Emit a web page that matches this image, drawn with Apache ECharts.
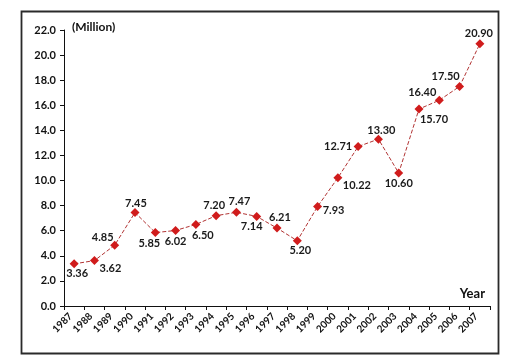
<!DOCTYPE html>
<html>
<head>
<meta charset="utf-8">
<script src="https://cdn.jsdelivr.net/npm/echarts@6/dist/echarts.min.js"></script>
<style>html,body{margin:0;padding:0;background:#fff;}#chart{width:506px;height:364px;}</style>
</head>
<body>
<div id="chart"></div>
<script>
var years = ['1987','1988','1989','1990','1991','1992','1993','1994','1995','1996','1997','1998','1999','2000','2001','2002','2003','2004','2005','2006','2007'];
var values = [3.36, 3.62, 4.85, 7.45, 5.85, 6.02, 6.50, 7.20, 7.47, 7.14, 6.21, 5.20, 7.93, 10.22, 12.71, 13.30, 10.60, 15.70, 16.40, 17.50, 20.90];
var yTicks = { min: 0, max: 22, interval: 2 };
// label offsets (pixels from each marker centre), style only
var labelOffsets = [[3,10],[16,8],[-12,-8],[1,-9],[-6,11],[0,11],[7,11],[-2,-10],[3,-11],[-5,10],[3,-11],[3,10],[16,4],[19,8],[-20,0],[3,-9],[0,10],[15,10],[-17,-8],[-14,-10],[-1,-10]];

var font = 'Lato, "DejaVu Sans", sans-serif';
var chart = echarts.init(document.getElementById('chart'));
chart.setOption({
  animation: false,
  backgroundColor: '#fff',
  grid: { left: 64, right: 16, top: 30, bottom: 58 },
  graphic: [{
    type: 'rect', shape: { x: 21.5, y: 11.5, width: 477, height: 342 },
    style: { fill: 'none', stroke: '#2a2a2a', lineWidth: 1.8 }, z: 0
  }],
  xAxis: {
    type: 'category', data: years, boundaryGap: true,
    name: 'Year', nameLocation: 'end', nameGap: -5,
    nameTextStyle: { fontFamily: font, fontWeight: 'bold', fontSize: 13, color: '#111', align: 'right', verticalAlign: 'bottom', padding: [0,0,6,0] },
    axisLine: { lineStyle: { color: '#111', width: 1 } },
    axisTick: { show: true, length: 4, alignWithLabel: false, lineStyle: { color: '#111' } },
    axisLabel: { rotate: 45, interval: 0, margin: 5, padding: [0,5,0,0], fontFamily: font, fontWeight: 'bold', fontSize: 10, color: '#111' },
    splitLine: { show: false }
  },
  yAxis: {
    type: 'value', min: yTicks.min, max: yTicks.max, interval: yTicks.interval,
    name: '(Million)', nameLocation: 'end', nameGap: 3,
    nameTextStyle: { fontFamily: font, fontWeight: 'bold', fontSize: 12, color: '#111', align: 'left', verticalAlign: 'middle', padding: [0,0,0,8] },
    axisLine: { show: true, lineStyle: { color: '#111', width: 1 } },
    axisTick: { show: true, length: 4, lineStyle: { color: '#111' } },
    axisLabel: { margin: 8, fontFamily: font, fontWeight: 'bold', fontSize: 11, color: '#111', formatter: function (v) { return v.toFixed(1); } },
    splitLine: { show: false }
  },
  series: [{
    type: 'line',
    data: values.map(function (v, i) {
      return {
        value: v,
        label: { offset: labelOffsets[i] }
      };
    }),
    symbol: 'diamond', symbolSize: 9,
    itemStyle: { color: '#d01c1c' },
    lineStyle: { color: '#b23434', width: 1, type: [4, 2] },
    label: {
      show: true, position: 'inside', align: 'center', verticalAlign: 'middle',
      fontFamily: font, fontWeight: 'bold', fontSize: 11, color: '#1a1a1a',
      formatter: function (p) { return p.value.toFixed(2); }
    }
  }]
});
</script>
</body>
</html>
